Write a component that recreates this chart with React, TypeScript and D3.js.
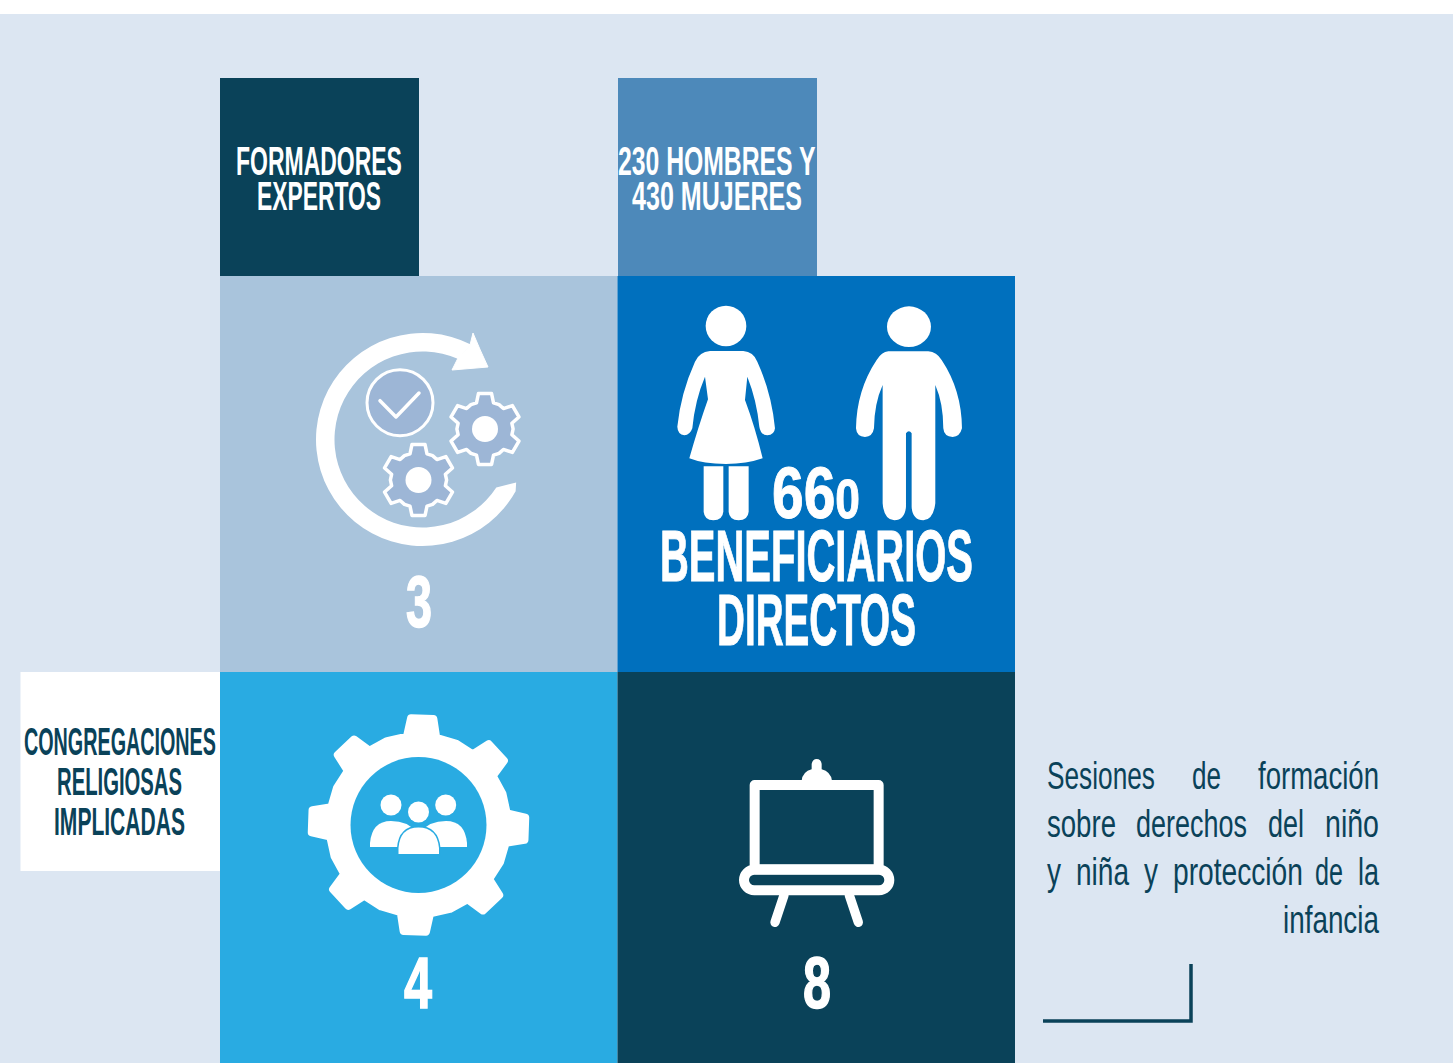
import React from 'react';
import * as d3 from 'd3';

// ==== data

const tileValues = ['3', '660', '4', '8'];
const tileColors = ['#A9C4DC', '#0070BE', '#29ABE2', '#0A4259'];
const tileColumns = [0, 1, 0, 1];
const tileRows = [0, 0, 1, 1];

const FONT = '"Liberation Sans Narrow"';
const NARROW = FONT + ', "Liberation Sans", sans-serif';
const DARK = '#0A4259';
const GEAR_FILL = '#9DB6D6';

// [text, x start, x end, baseline, font size, weight, colour]
const labels: [string, number, number, number, number, number, string][] = [
  ['FORMADORES', 236, 402, 175, 41, 700, '#fff'],
  ['EXPERTOS', 257, 381, 210, 41, 700, '#fff'],
  ['230 HOMBRES Y', 618, 816, 175, 41, 700, '#fff'],
  ['430 MUJERES', 632, 802, 210, 41, 700, '#fff'],
  ['BENEFICIARIOS', 660, 973, 581, 72, 700, '#fff'],
  ['DIRECTOS', 717, 916, 645, 72, 700, '#fff'],
  ['CONGREGACIONES', 24, 216, 755, 38, 700, DARK],
  ['RELIGIOSAS', 57, 182, 795, 38, 700, DARK],
  ['IMPLICADAS', 54, 185, 835, 38, 700, DARK],
];

// the text block is justified, so every word has its own extent
const paragraph: [string, number, number, number][] = [
  ['Sesiones', 1047, 1155, 789],
  ['de', 1192, 1221, 789],
  ['formación', 1258, 1379, 789],
  ['sobre', 1047, 1116, 837],
  ['derechos', 1136, 1247, 837],
  ['del', 1268, 1304, 837],
  ['niño', 1325, 1379, 837],
  ['y', 1047, 1061, 885],
  ['niña', 1076, 1129, 885],
  ['y', 1144, 1158, 885],
  ['protección', 1173, 1303, 885],
  ['de', 1315, 1343, 885],
  ['la', 1358, 1379, 885],
  ['infancia', 1283, 1379, 933],
];

// ==== scales

const xTile = d3.scaleLinear().domain([0, 1]).range([220, 617.5]);
const yTile = d3.scaleLinear().domain([0, 1]).range([276, 672]);

// ==== helpers

const rad = (deg: number) => (deg * Math.PI) / 180;

const measureCtx = document.createElement('canvas').getContext('2d') as CanvasRenderingContext2D;
function textWidth(t: string, size: number, weight: number) {
  measureCtx.font = `${weight} ${size}px ${NARROW}`;
  return measureCtx.measureText(t).width;
}

// gear outline as radial points, tooth 0 pointing up
function gearPath(teeth: number, rTip: number, rRoot: number, tipHalf: number, baseHalf: number, rotate = 0) {
  const pts: [number, number][] = [];
  const step = 360 / teeth;
  for (let i = 0; i < teeth; i++) {
    const a = i * step + rotate;
    pts.push([rad(a - baseHalf), rRoot]);
    pts.push([rad(a - tipHalf), rTip]);
    pts.push([rad(a + tipHalf), rTip]);
    pts.push([rad(a + baseHalf), rRoot]);
    pts.push([rad(a + step / 2), rRoot + 0.6]);
  }
  return d3.lineRadial().curve(d3.curveLinearClosed)(pts) as string;
}

function polar(cx: number, cy: number, r: number, deg: number) {
  return [cx + r * Math.sin(rad(deg)), cy - r * Math.cos(rad(deg))];
}

function cycleArrow(cx: number, cy: number) {
  const a = polar(cx, cy, 106.5, 27);
  const b = polar(cx, cy, 106.5, 119);
  const tip = polar(cx, cy, 103, 114.6);
  const c = polar(cx, cy, 88, 123);
  const d = polar(cx, cy, 88, 24);
  return [
    `M${a[0]},${a[1]}`,
    `A106.5,106.5 0 1 0 ${b[0]},${b[1]}`,
    `L${tip[0]},${tip[1]}`,
    `L${c[0]},${c[1]}`,
    `A88,88 0 1 1 ${d[0]},${d[1]}`,
    'Z',
  ].join(' ');
}

const Gear = ({ x, y }: { x: number; y: number }) => (
  <g transform={`translate(${x},${y})`}>
    <path d={gearPath(6, 36, 27.5, 10.5, 18)} fill={GEAR_FILL} stroke="#fff" strokeWidth={3.5} strokeLinejoin="round" />
    <circle r={13} fill="#fff" />
  </g>
);

// text squeezed to the width it has in the picture
const Fit = ({ x0, x1, y, size, weight, fill, natural, bold, children }: any) => (
  <text
    transform={`translate(${x0},${y}) scale(${(x1 - x0) / natural},1)`}
    fontFamily={NARROW}
    fontSize={size}
    fontWeight={weight}
    fill={fill}
    stroke={bold ? fill : 'none'}
    strokeWidth={bold || 0}
  >
    {children}
  </text>
);

const line = d3.line();

// ==== chart

export default function App() {
  const big = tileValues[1].slice(0, 2);
  const small = tileValues[1].slice(2);
  const bigW = textWidth(big, 72, 700) + textWidth(small, 56, 700);

  return (
    <svg
      width={1453}
      height={1063}
      style={{ position: 'absolute', left: 0, top: 0, display: 'block' }}
    >
      <rect width={1453} height={1063} fill="#fff" />
      <rect y={14} width={1453} height={1049} fill="#DCE6F2" />

      {/* small caption squares */}
      <rect x={220} y={78} width={199} height={199} fill={DARK} />
      <rect x={618} y={78} width={199} height={199} fill="#4D89BA" />
      <rect x={20.5} y={672} width={200} height={199} fill="#fff" />

      {tileValues.map((v, i) => (
        <rect
          key={v}
          x={xTile(tileColumns[i])}
          y={yTile(tileRows[i])}
          width={xTile(1) - xTile(0)}
          height={yTile(1) - yTile(0)}
          fill={tileColors[i]}
        />
      ))}

      {/* process icon */}
      <path d={cycleArrow(422.5, 439.5)} fill="#fff" />
      <path d="M473,333 Q480,350 488,367 L452,370 L458,358 L470,345 Z" fill="#fff" stroke="#fff" strokeWidth={1} strokeLinejoin="round" />
      <circle cx={400} cy={402.7} r={33} fill={GEAR_FILL} stroke="#fff" strokeWidth={3} />
      <path
        d={line([[380, 400.7], [396, 417], [419, 393]]) as string}
        fill="none"
        stroke="#fff"
        strokeWidth={3.5}
        strokeLinecap="round"
        strokeLinejoin="round"
      />
      <Gear x={485} y={429} />
      <Gear x={418.5} y={480} />

      {/* woman and man */}
      <g transform="translate(640,290) scale(0.3333)" fill="#fff">
        <circle cx={258} cy={108} r={61} />
        <path d="M210 183 L310 183 Q340 185 352 215 Q395 310 405 415 Q403 435 382 436 Q362 435 358 410 Q350 330 322 260 L315 330 Q345 410 368 505 Q320 522 258 522 Q190 522 148 505 Q175 410 204 328 L195 260 Q165 330 157 415 Q150 435 133 436 Q113 433 112 410 Q122 310 165 215 Q178 186 210 183 Z" />
        <path d="M191 529 L250 529 L250 665 Q248 690 220 691 Q193 690 191 665 Z" />
        <path d="M266 529 L326 529 L326 665 Q324 690 296 691 Q268 690 266 665 Z" />
        <ellipse cx={807} cy={110} rx={66} ry={61} />
        <path d="M745 184 L865 184 Q890 186 905 210 Q965 300 966 415 Q960 440 938 441 Q912 440 910 415 Q910 340 886 285 L886 640 Q880 690 850 691 Q817 690 815 650 L815 430 Q807 418 798 430 L798 650 Q795 690 763 691 Q732 690 728 640 L728 285 Q703 340 702 415 Q698 440 675 441 Q650 440 648 415 Q650 300 710 210 Q725 186 745 184 Z" />
      </g>

      {/* big gear with group */}
      <g transform="translate(418.5,825)">
        <path d={gearPath(8, 107, 89, 6, 9.5, 2)} fill="#fff" stroke="#fff" strokeWidth={8} strokeLinejoin="round" />
        <circle r={68} fill={tileColors[2]} />
      </g>
      <g fill="#fff">
        <circle cx={391} cy={805} r={10.5} />
        <circle cx={445.7} cy={805} r={10.5} />
        <path d="M370,847 L370,843 Q372,821 391,821 Q408,821 416,832 L400,847 Z" />
        <path d="M467,847 L467,843 Q465,821 446,821 Q429,821 421,832 L437,847 Z" />
        <path
          d="M398.5,854 L398.5,848 Q400,827.5 418.5,827.5 Q437,827.5 439,848 L439,854 Z"
          stroke={tileColors[2]}
          strokeWidth={3}
          paintOrder="stroke"
        />
        <circle cx={418.5} cy={812} r={10.5} />
      </g>

      {/* easel */}
      <g transform="translate(720,750) scale(0.3333)">
        <rect x={104} y={105} width={372} height={253} fill="none" stroke="#fff" strokeWidth={30} strokeLinejoin="round" />
        <rect x={72} y={359} width={436} height={62} rx={31} fill="none" stroke="#fff" strokeWidth={30} />
        <path d="M245 92 Q248 65 275 58 L275 42 Q278 27 290 27 Q303 27 305 42 L305 58 Q332 65 336 92 Z" fill="#fff" />
        <path
          d={line([[192, 436], [165, 517]]) as string}
          stroke="#fff"
          strokeWidth={28}
          strokeLinecap="round"
          fill="none"
        />
        <path
          d={line([[388, 436], [415, 517]]) as string}
          stroke="#fff"
          strokeWidth={28}
          strokeLinecap="round"
          fill="none"
        />
      </g>

      {labels.map(([t, x0, x1, y, size, weight, fill]) => (
        <Fit
          key={t}
          x0={x0}
          x1={x1}
          y={y}
          size={size}
          weight={weight}
          fill={fill}
          natural={textWidth(t, size, weight)}
          bold={size > 60 ? 1 : 0}
        >
          {t}
        </Fit>
      ))}

      <Fit x0={772} x1={860} y={518} size={72} weight={700} fill="#fff" natural={bigW} bold={1}>
        {big}
        <tspan fontSize={56}>{small}</tspan>
      </Fit>
      <Fit x0={406} x1={432} y={627} size={72} weight={700} fill="#fff" natural={textWidth(tileValues[0], 72, 700)} bold={1.5}>
        {tileValues[0]}
      </Fit>
      <Fit x0={404} x1={432} y={1008} size={72} weight={700} fill="#fff" natural={textWidth(tileValues[2], 72, 700)} bold={1.5}>
        {tileValues[2]}
      </Fit>
      <Fit x0={803} x1={831} y={1008} size={72} weight={700} fill="#fff" natural={textWidth(tileValues[3], 72, 700)} bold={1.5}>
        {tileValues[3]}
      </Fit>

      {paragraph.map(([t, x0, x1, y], i) => (
        <Fit key={i} x0={x0} x1={x1} y={y} size={38} weight={400} fill={DARK} natural={textWidth(t, 38, 400)}>
          {t}
        </Fit>
      ))}

      <path
        d={line([[1043, 1021], [1191, 1021], [1191, 964]]) as string}
        fill="none"
        stroke={DARK}
        strokeWidth={3.5}
      />
    </svg>
  );
}
